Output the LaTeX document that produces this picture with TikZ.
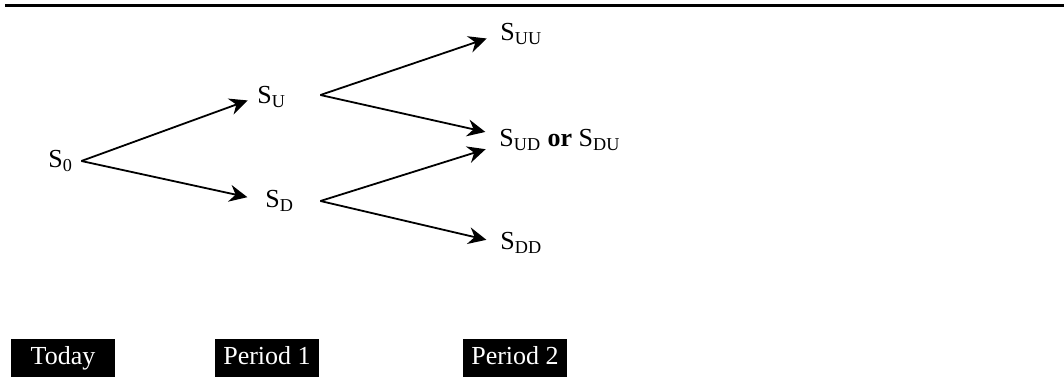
\documentclass[tikz,border=0pt]{standalone}
\usepackage{fontspec}
\setmainfont{Liberation Serif}
\usepackage{tikz}
\usetikzlibrary{arrows.meta}

\begin{document}
\begin{tikzpicture}[x=0.5pt,y=-0.5pt,font=\fontsize{13}{15}\selectfont,
    price/.style={anchor=west,inner sep=0pt},
    move/.style={line width=0.9pt,-{Stealth[length=9pt,width=8.5pt,inset=3pt]}},
    period/.style={fill=black,text=white,minimum width=52pt,minimum height=19.5pt,
        inner sep=0pt,text height=9pt,text depth=3pt}]
    \useasboundingbox (0,0) rectangle (1064,376);
    \draw[line width=1.5pt] (5,5) -- (1064,5);
    \node[price] (s0) at (48,161) {S\textsubscript{0}};
    \node[price] (su) at (257,97) {S\textsubscript{U}};
    \node[price] (sd) at (265,201) {S\textsubscript{D}};
    \node[price] (suu) at (500,34) {S\textsubscript{UU}};
    \node[price] (sud) at (499,140) {S\textsubscript{UD} \textbf{or} S\textsubscript{DU}};
    \node[price] (sdd) at (500,243) {S\textsubscript{DD}};
    \draw[move,shorten >=5pt] ([xshift=4pt]s0.east) -- (su.west);
    \draw[move,shorten >=9pt] ([xshift=4pt]s0.east) -- (sd.west);
    \draw[move,shorten >=7pt] ([xshift=17pt,yshift=1pt]su.east) -- (suu.west);
    \draw[move,shorten >=7pt] ([xshift=17pt,yshift=1pt]su.east) -- ([yshift=2.5pt]sud.west);
    \draw[move,shorten >=7pt] ([xshift=13pt]sd.east) -- ([yshift=-2.5pt]sud.west);
    \draw[move,shorten >=7pt] ([xshift=13pt]sd.east) -- (sdd.west);
    \node[period] (today) at (63,358) {Today};
    \node[period] (p1) at (267,358) {Period 1};
    \node[period] (p2) at (515,358) {Period 2};
\end{tikzpicture}
\end{document}
